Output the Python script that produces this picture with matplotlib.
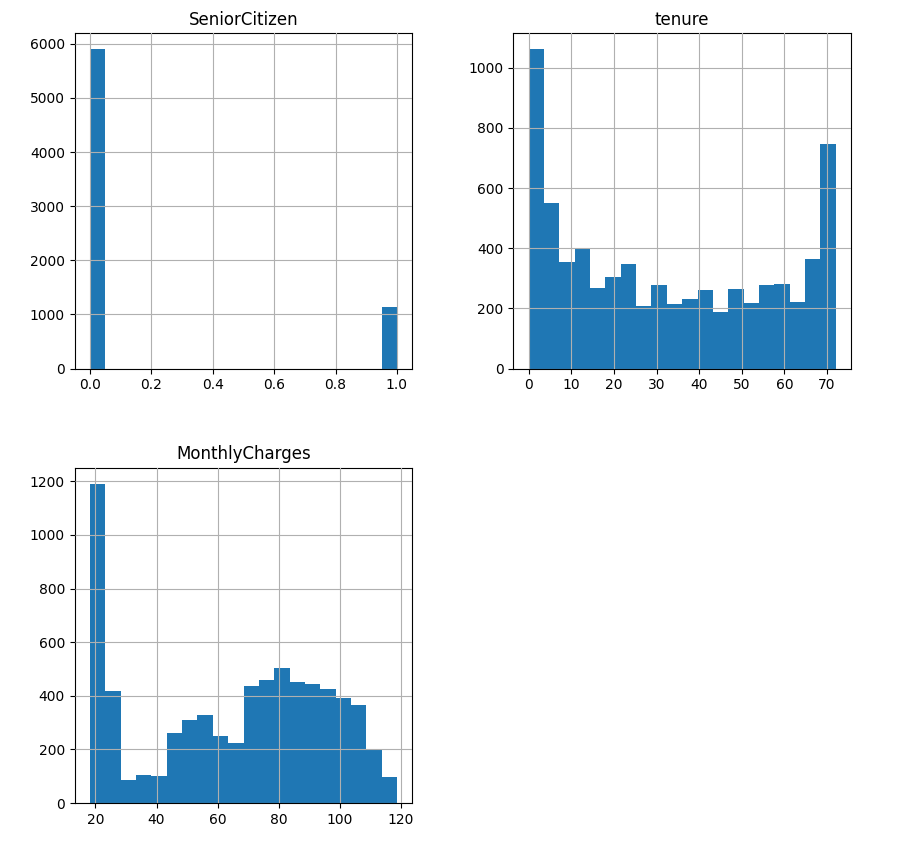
import numpy as np
import matplotlib
matplotlib.use("Agg")
import matplotlib.pyplot as plt

# histogram counts (20 bins each)
senior_range = (0, 1)
senior_counts = [5901, 0, 0, 0, 0, 0, 0, 0, 0, 0,
                 0, 0, 0, 0, 0, 0, 0, 0, 0, 1142]

tenure_range = (0, 72)
tenure_counts = [1062, 550, 356, 399, 267, 303, 347, 207, 277, 216,
                 230, 263, 187, 266, 217, 277, 280, 223, 363, 745]

monthly_range = (18.25, 118.75)
monthly_counts = [1191, 419, 87, 106, 102, 262, 311, 330, 251, 225,
                  438, 460, 505, 453, 445, 427, 393, 367, 197, 98]

columns = ["SeniorCitizen", "tenure", "MonthlyCharges"]
ranges = [senior_range, tenure_range, monthly_range]
counts = [senior_counts, tenure_counts, monthly_counts]

fig, axes = plt.subplots(2, 2, figsize=(9.12, 8.49), dpi=100)
plt.subplots_adjust(left=0.082, right=0.933, top=0.961, bottom=0.054,
                    wspace=0.30, hspace=0.295)

for ax, name, rng, cnt in zip(axes.flat, columns, ranges, counts):
    edges = np.linspace(rng[0], rng[1], len(cnt) + 1)
    ax.hist(edges[:-1], bins=edges, weights=cnt, color="#1f77b4")
    ax.set_title(name)
    ax.grid(True)
    ax.set_axisbelow(False)

axes[1, 1].axis("off")

plt.savefig("out.png")
